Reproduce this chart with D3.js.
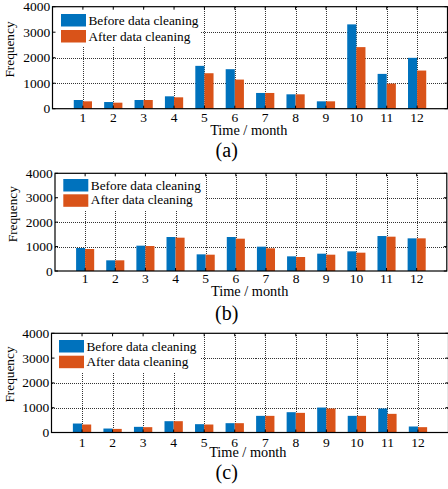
<!DOCTYPE html>
<html>
<head>
<meta charset="utf-8">
<script src="https://cdn.jsdelivr.net/npm/d3@7"></script>
<style>
  html, body { margin: 0; padding: 0; background: #fff; }
  svg { display: block; }
  text { font-family: "Liberation Serif", "Times New Roman", serif; fill: #000; }
</style>
</head>
<body>
<svg id="chart" width="448" height="489"></svg>
<script>
// ---- data ----
const months = [1, 2, 3, 4, 5, 6, 7, 8, 9, 10, 11, 12];
const yTicks = [0, 1000, 2000, 3000, 4000];
const seriesNames = ["Before data cleaning", "After data cleaning"];
const panelLabels = ["(a)", "(b)", "(c)"];
const xLabel = "Time / month";
const yLabel = "Frequency";

const beforeA = [341, 262, 341, 486, 1680, 1549, 617, 564, 289, 3307, 1365, 1995];
const afterA  = [289, 236, 341, 446, 1391, 1142, 617, 564, 289, 2415, 984, 1496];

const beforeB = [941, 437, 1037, 1392, 682, 1392, 996, 600, 709, 805, 1432, 1337];
const afterB  = [900, 437, 1023, 1364, 668, 1323, 928, 573, 668, 750, 1405, 1337];

const beforeC = [362, 160, 228, 456, 336, 376, 671, 819, 1007, 671, 966, 242];
const afterC  = [322, 145, 215, 456, 322, 376, 671, 792, 966, 671, 752, 215];

const colors = ["#0072BD", "#D95319"];

// ---- layout (positions only) ----
const panels = [
  { before: beforeA, after: afterA, label: panelLabels[0],
    left: 52.5, right: 447.5, top: 6.7, bottom: 108.7,
    tickBase: 121.5, xlabBase: 135, xlabX: 248.8, capBase: 156.5, ylabX: 14, ylabY: 49.5,
    legW: 148, legH: 39, legPatchX: 61, legPatchY: [14, 30], legTextBase: [25, 40.7] },
  { before: beforeB, after: afterB, label: panelLabels[1],
    left: 55, right: 446.8, top: 173.3, bottom: 271,
    tickBase: 283.3, xlabBase: 296, xlabX: 249.7, capBase: 320, ylabX: 17, ylabY: 214.2,
    legW: 150, legH: 37, legPatchX: 63.3, legPatchY: [179, 194.3], legTextBase: [190, 204.3] },
  { before: beforeC, after: afterC, label: panelLabels[2],
    left: 51.5, right: 448.5, top: 333.3, bottom: 432.5,
    tickBase: 446.7, xlabBase: 456.5, xlabX: 247.8, capBase: 479, ylabX: 14, ylabY: 374.5,
    legW: 148, legH: 39, legPatchX: 59, legPatchY: [340, 355.7], legTextBase: [351, 366] }
];

const svg = d3.select("#chart");

panels.forEach(p => {
  const x = d3.scaleLinear().domain([0, 13]).range([p.left, p.right]);
  const y = d3.scaleLinear().domain([0, 4000]).range([p.bottom, p.top]);
  const g = svg.append("g");

  // grid
  const grid = g.append("g").attr("stroke", "#333").attr("stroke-width", 1)
    .attr("stroke-dasharray", "1,1").attr("shape-rendering", "crispEdges");
  grid.selectAll("line.v").data(months).join("line")
    .attr("x1", d => Math.round(x(d)) + 0.5).attr("x2", d => Math.round(x(d)) + 0.5)
    .attr("y1", p.top).attr("y2", p.bottom);
  grid.selectAll("line.h").data(yTicks.slice(1, 4)).join("line")
    .attr("x1", p.left).attr("x2", p.right)
    .attr("y1", d => Math.round(y(d)) + 0.5).attr("y2", d => Math.round(y(d)) + 0.5);

  // legend background (hides grid)
  g.append("rect").attr("x", p.left + 0.5).attr("y", p.top + 0.5)
    .attr("width", p.legW).attr("height", p.legH).attr("fill", "#fff");

  // bars
  const bw = 0.3;
  const series = [p.before, p.after];
  series.forEach((vals, si) => {
    g.append("g").selectAll("rect").data(months).join("rect")
      .attr("x", (d) => x(d + (si === 0 ? -bw : 0)))
      .attr("width", x(bw) - x(0))
      .attr("y", (d, i) => y(vals[i]))
      .attr("height", (d, i) => y(0) - y(vals[i]))
      .attr("fill", colors[si]);
  });

  // box
  g.append("rect").attr("x", p.left).attr("y", p.top)
    .attr("width", p.right - p.left).attr("height", p.bottom - p.top)
    .attr("fill", "none").attr("stroke", "#000").attr("stroke-width", 1.2);

  // inward tick marks
  const tk = g.append("g").attr("stroke", "#000").attr("stroke-width", 1);
  months.forEach(m => {
    tk.append("line").attr("x1", x(m)).attr("x2", x(m)).attr("y1", p.bottom).attr("y2", p.bottom - 3);
    tk.append("line").attr("x1", x(m)).attr("x2", x(m)).attr("y1", p.top).attr("y2", p.top + 3);
  });
  yTicks.forEach(v => {
    tk.append("line").attr("x1", p.left).attr("x2", p.left + 3).attr("y1", y(v)).attr("y2", y(v));
    tk.append("line").attr("x1", p.right).attr("x2", p.right - 3).attr("y1", y(v)).attr("y2", y(v));
  });

  // tick labels
  g.append("g").selectAll("text").data(months).join("text")
    .attr("x", d => x(d)).attr("y", p.tickBase)
    .attr("text-anchor", "middle").attr("font-size", 13.5).text(d => d);
  g.append("g").selectAll("text").data(yTicks).join("text")
    .attr("x", p.left - 2.2).attr("y", d => y(d)).attr("dy", "0.34em")
    .attr("text-anchor", "end").attr("font-size", 13.5).text(d => d);

  // axis labels
  g.append("text").attr("x", p.xlabX).attr("y", p.xlabBase)
    .attr("text-anchor", "middle").attr("font-size", 14.3).text(xLabel);
  g.append("text").attr("transform", `translate(${p.ylabX},${p.ylabY}) rotate(-90)`)
    .attr("text-anchor", "middle").attr("font-size", 13.3).text(yLabel);

  // caption
  g.append("text").attr("x", 226.7).attr("y", p.capBase)
    .attr("text-anchor", "middle").attr("font-size", 20).text(p.label);

  // legend
  seriesNames.forEach((name, si) => {
    g.append("rect").attr("x", p.legPatchX).attr("y", p.legPatchY[si])
      .attr("width", 25).attr("height", 12.5).attr("fill", colors[si]);
    g.append("text").attr("x", p.legPatchX + 27.5).attr("y", p.legTextBase[si])
      .attr("font-size", 13.3).text(name);
  });
});
</script>
</body>
</html>
